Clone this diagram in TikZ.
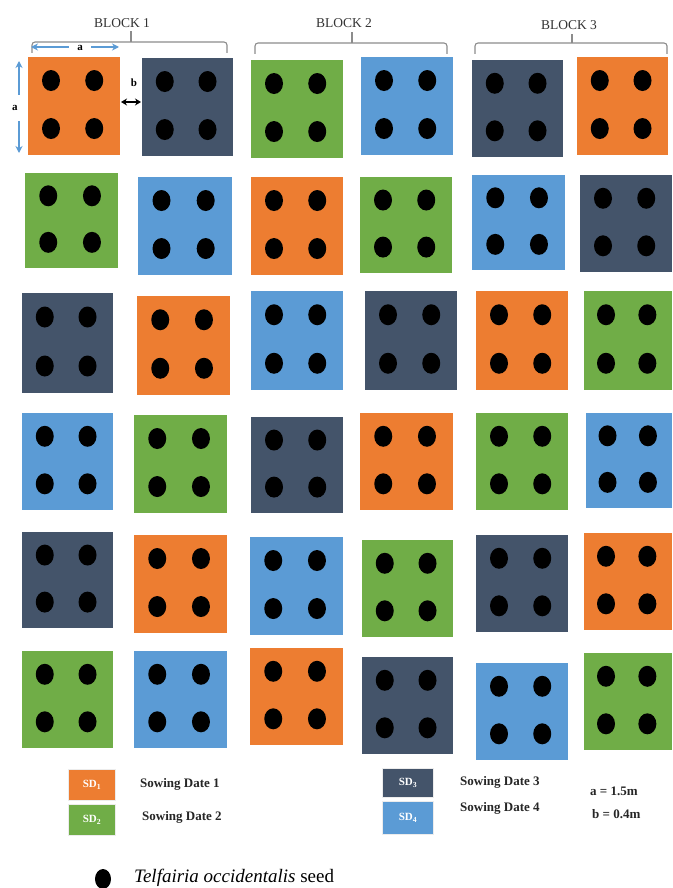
\documentclass[tikz,border=0pt]{standalone}
\usepackage{fontspec}
\setmainfont{Liberation Serif}
\usetikzlibrary{arrows.meta}
\definecolor{sdone}{HTML}{ED7D31}
\definecolor{sdtwo}{HTML}{70AD47}
\definecolor{sdthree}{HTML}{44546A}
\definecolor{sdfour}{HTML}{5B9BD5}
\definecolor{bracegray}{HTML}{8C8C8C}
\definecolor{txtgray}{HTML}{333333}
\begin{document}
\begin{tikzpicture}[x=1pt,y=-1pt,
  plotbox/.style={rectangle,draw=none,inner sep=0pt,outer sep=0pt},
  blocklabel/.style={font=\fontsize{13.5}{15}\selectfont,text=txtgray,inner sep=1pt},
  bracket/.style={draw=bracegray,line width=1.1pt,rounded corners=3pt},
  dimarrow/.style={draw=sdfour,line width=1.3pt,{Stealth[length=7pt,width=7pt]}-{Stealth[length=7pt,width=7pt]}},
  dimlabel/.style={font=\bfseries\fontsize{11}{12}\selectfont,fill=white,inner sep=2pt},
  legbox/.style={rectangle,draw=white!85!gray,line width=0.6pt,inner sep=0pt,minimum width=47pt,minimum height=31pt,text=white,font=\bfseries\fontsize{11}{12}\selectfont},
  legtext/.style={font=\bfseries\fontsize{13}{14}\selectfont,anchor=west,inner sep=0pt,text=black!85}]
\useasboundingbox (0,0) rectangle (672,888);
\fill[white] (0,0) rectangle (672,888);

\foreach \n/\col/\xa/\ya/\xb/\yb in {
  p11/sdone/28/57/120/155, p12/sdthree/142/58/233/156, p13/sdtwo/251/60/343/158,
  p14/sdfour/361/57/453/155, p15/sdthree/472/60/563/157, p16/sdone/577/57/668/155,
  p21/sdtwo/25/173/118/268, p22/sdfour/138/177/232/275, p23/sdone/251/177/343/275,
  p24/sdtwo/360/177/452/273, p25/sdfour/472/175/565/270, p26/sdthree/580/175/672/272,
  p31/sdthree/22/293/113/393, p32/sdone/137/296/230/395, p33/sdfour/251/291/343/390,
  p34/sdthree/365/291/457/390, p35/sdone/476/291/568/390, p36/sdtwo/584/291/672/390,
  p41/sdfour/22/413/113/510, p42/sdtwo/134/415/227/513, p43/sdthree/251/417/343/513,
  p44/sdone/360/413/453/510, p45/sdtwo/476/413/568/510, p46/sdfour/586/413/672/508,
  p51/sdthree/22/532/113/628, p52/sdone/134/535/227/633, p53/sdfour/250/537/343/635,
  p54/sdtwo/362/540/453/637, p55/sdthree/476/535/568/632, p56/sdone/584/533/672/630,
  p61/sdtwo/22/651/113/748, p62/sdfour/134/651/227/748, p63/sdone/250/648/343/745,
  p64/sdthree/362/657/453/754, p65/sdfour/476/663/568/760, p66/sdtwo/584/653/672/750}{
  \pgfmathsetmacro\pw{\xb-\xa}
  \pgfmathsetmacro\ph{\yb-\ya}
  \pgfmathsetmacro\pcx{(\xa+\xb)/2}
  \pgfmathsetmacro\pcy{(\ya+\yb)/2}
  \node[plotbox,fill=\col,minimum width=\pw pt,minimum height=\ph pt] (\n) at (\pcx,\pcy) {};
  \foreach \fx in {0.25,0.72}{
    \foreach \fy in {0.24,0.73}{
      \fill[black] ({\xa+\fx*\pw},{\ya+\fy*\ph}) ellipse [x radius=9pt, y radius=10.5pt];
    }
  }
}

% block labels and brackets
\node[blocklabel] (blk1) at (122,23) {BLOCK 1};
\node[blocklabel] (blk2) at (344,23) {BLOCK 2};
\node[blocklabel] (blk3) at (569,25) {BLOCK 3};
\draw[bracket] (32,53) -- (32,42) -- (227,42) -- (227,53);
\draw[bracegray,line width=1.1pt] (131,42) -- (131,31);
\draw[bracket] (255,54) -- (255,43) -- (447,43) -- (447,54);
\draw[bracegray,line width=1.1pt] (352,43) -- (352,32);
\draw[bracket] (475,54) -- (475,43) -- (667,43) -- (667,54);
\draw[bracegray,line width=1.1pt] (572,43) -- (572,34);

% dimension arrows
\coordinate (ah1) at (31,47);
\coordinate (ah2) at (119,47);
\draw[dimarrow] (ah1) -- (ah2);
\node[dimlabel,inner xsep=8pt] (alab1) at (80,48) {a};
\coordinate (av1) at (19,61);
\coordinate (av2) at (19,153);
\draw[dimarrow] (av1) -- (av2);
\node[dimlabel,inner ysep=10pt] (alab2) at (15,108) {a};
\coordinate (bh1) at (121,102);
\coordinate (bh2) at (141,102);
\draw[black,line width=1.4pt,{Stealth[length=6pt,width=7pt]}-{Stealth[length=6pt,width=7pt]}] (bh1) -- (bh2);
\node[font=\bfseries\fontsize{11}{12}\selectfont,inner sep=0pt] (blab) at (134,83) {b};

% legend
\node[legbox,fill=sdone] (sd1) at (92,785) {SD\textsubscript{1}};
\node[legbox,fill=sdtwo] (sd2) at (92,820) {SD\textsubscript{2}};
\node[legtext] (t1) at (140,784) {Sowing Date 1};
\node[legtext] (t2) at (142,817) {Sowing Date 2};
\node[legbox,fill=sdthree,minimum width=51pt,minimum height=29pt] (sd3) at (408,783) {SD\textsubscript{3}};
\node[legbox,fill=sdfour,minimum width=51pt,minimum height=33pt] (sd4) at (408,818) {SD\textsubscript{4}};
\node[legtext] (t3) at (460,782) {Sowing Date 3};
\node[legtext] (t4) at (460,808) {Sowing Date 4};
\node[legtext] (ta) at (590,791) {a = 1.5m};
\node[legtext] (tb) at (592,814) {b = 0.4m};

\fill[black] (103,879) ellipse [x radius=8pt, y radius=10pt];
\node[font=\fontsize{19}{21}\selectfont,anchor=west,inner sep=0pt] (seedtxt) at (134,878) {\textit{Telfairia occidentalis} seed};
\end{tikzpicture}
\end{document}
